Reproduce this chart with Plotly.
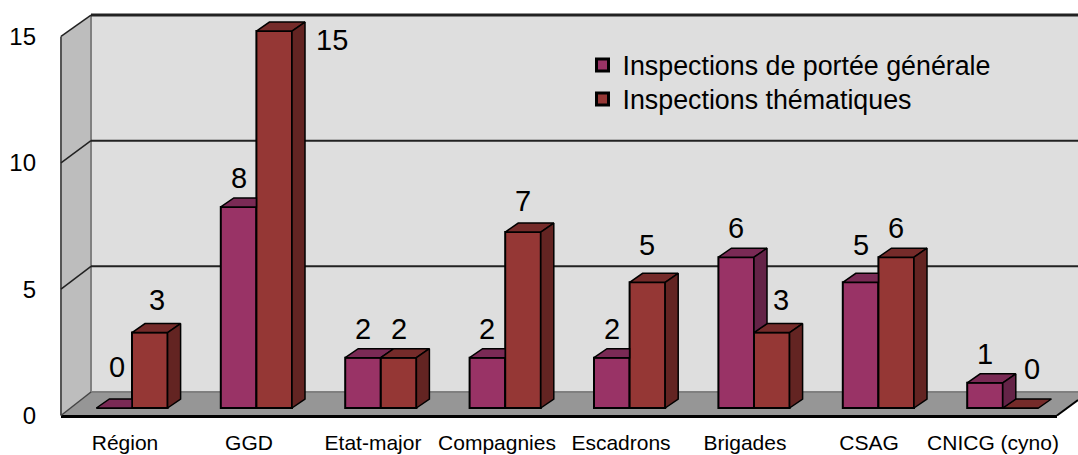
import plotly.graph_objects as go

categories = ["Région", "GGD", "Etat-major", "Compagnies", "Escadrons", "Brigades", "CSAG", "CNICG (cyno)"]
generale = [0, 8, 2, 2, 2, 6, 5, 1]
thematiques = [3, 15, 2, 7, 5, 3, 6, 0]
tick_values = [0, 5, 10, 15]
series_names = ["Inspections de portée générale", "Inspections thématiques"]

W, H = 1078, 455
L, B = 40, 428            # plot area in pixels
FONT = "Liberation Sans"
MAG, MAG_TOP, MAG_SIDE = "#993366", "#7a2a55", "#642347"
RED, RED_TOP, RED_SIDE = "#953735", "#752b2a", "#632422"
WALL, SIDE, FLOOR = "#dedede", "#bdbdbd", "#969696"

# scales (pixels per unit)
UX, X0 = 124.4, 132.0     # bar plane: pixel of category centre 0
UY, Y0 = 25.13, 408.0     # bar plane: pixel of value 0
FY0, FUY = 415.5, 25.27   # front plane of the value axis
LX0, LUX = 125.0, 124.0   # category labels
BW = 35.6 / UX
DX, DY = 13 / UX, 9 / UY  # bar depth

def fx(p): return (p - L) / (W - L)
def fy(p): return 1 - p / B

def poly(pts):
    return "M" + " L".join(f"{fx(a):.5f},{fy(b):.5f}" for a, b in pts) + " Z"

shapes = []
def wall(pts, fill):
    shapes.append(dict(type="path", xref="paper", yref="paper", layer="below",
                       path=poly(pts), fillcolor=fill, line=dict(width=0)))
def seg(a, b, color, width):
    shapes.append(dict(type="line", xref="paper", yref="paper", layer="below",
                       x0=fx(a[0]), y0=fy(a[1]), x1=fx(b[0]), y1=fy(b[1]),
                       line=dict(color=color, width=width)))

FX, BX = 61, 91                # front / back x of the wall
WD = 23.5                      # wall depth upward, px
wall_top = FY0 - FUY * 15
back_top = wall_top - WD + 2.5
back_bot = FY0 - WD
wall([(BX, back_top), (W, back_top), (W, back_bot), (BX, back_bot)], WALL)
wall([(FX, wall_top), (BX, back_top), (BX, back_bot), (FX, FY0)], SIDE)
wall([(FX, FY0), (BX, back_bot), (W, back_bot), (W, 400), (1057, FY0)], FLOOR)
seg((BX, back_bot), (W, back_bot), "#7f7f7f", 2)
seg((BX, back_top), (BX, back_bot), "#808080", 2)
seg((FX, wall_top), (FX, FY0), "#555555", 2)
seg((FX, FY0 + 1), (1057, FY0 + 1), "#000000", 3)
seg((1057, FY0), (W, 400), "#000000", 2)
seg((FX, FY0), (BX, back_bot), "#444444", 1.5)
for v in tick_values[1:]:
    fpy = FY0 - FUY * v
    bpy = Y0 - UY * v - 16
    seg((BX, bpy), (W, bpy), "#222222", 2 if v < 15 else 3)
    seg((FX, fpy), (BX, bpy), "#222222", 1.5)

fig = go.Figure()

def face(xs, ys, fill):
    fig.add_trace(go.Scatter(x=xs + xs[:1], y=ys + ys[:1], mode="lines", fill="toself",
                             fillcolor=fill, line=dict(color="#000000", width=1.5),
                             hoverinfo="skip", showlegend=False))

fig.add_trace(go.Bar(x=list(range(8)), y=generale, name=series_names[0], marker=dict(color=MAG, line=dict(color="#000000", width=2)), showlegend=False))
fig.add_trace(go.Bar(x=list(range(8)), y=thematiques, name=series_names[1], marker=dict(color=RED, line=dict(color="#000000", width=2)), showlegend=False))

for i, (m, r) in enumerate(zip(generale, thematiques)):
    a, c, e = i - BW, i, i + BW
    # magenta top, clipped by the taller red bar in front of it
    if m < r:
        face([a, c, c, a + DX], [m, m, m + DY, m + DY], MAG_TOP)
    else:
        face([a, c, c + DX, a + DX], [m, m, m + DY, m + DY], MAG_TOP)
    # red top and side
    face([c, e, e + DX, c + DX], [r, r, r + DY, r + DY], RED_TOP)
    if r > 0:
        face([e, e + DX, e + DX, e], [r, r + DY, DY, 0], RED_SIDE)
    # magenta side, only where it rises above the red bar
    if m > r:
        face([c, c + DX, c + DX, c], [m, m + DY, r + DY, r], MAG_SIDE)

# legend entries, one legend per row to hold the reference's row spacing
for name, col, lg in zip(series_names, [MAG, RED], ["legend", "legend2"]):
    fig.add_trace(go.Scatter(x=[None], y=[None], mode="markers", name=name, legend=lg,
                             marker=dict(symbol="square", size=12, color=col, line=dict(color="#000000", width=3))))

# category and value axes live on the overlaying subplot
fig.add_trace(go.Scatter(x=categories, y=[0] * 8, xaxis="x2", yaxis="y2", mode="markers",
                         marker=dict(opacity=0), hoverinfo="skip", showlegend=False))

annotations = []
def label(x, v, text, dx=0, dy=31):
    annotations.append(dict(x=x, y=v, xref="x", yref="y", text=str(text), showarrow=False,
                            xshift=dx, yshift=dy, font=dict(family=FONT, size=29, color="#000000"),
                            xanchor="center", yanchor="middle"))
for i, (m, r) in enumerate(zip(generale, thematiques)):
    label(i - BW / 2, m, m, 3 if m == 0 else 0, 41 if m == 0 else (37 if m == 5 else 29))
    if r == 15:
        label(i + BW / 2, r, r, 58, -9)
    elif r == 0:
        label(i + BW / 2, r, r, 11, 39)
    elif i == 0:
        label(i + BW / 2, r, r, 7, 33)
    elif m > r:
        label(i + BW / 2, r, r, 9, 33)
    else:
        label(i + BW / 2, r, r, 0, 29 if r in (2, 6) else (37 if r == 5 else 31))

leg = dict(xanchor="left", yanchor="top", bgcolor="rgba(0,0,0,0)", font=dict(family=FONT, size=26.8))
fig.update_layout(
    width=W, height=H, margin=dict(l=L, r=0, t=0, b=H - B), autosize=False,
    paper_bgcolor="#ffffff", plot_bgcolor="rgba(0,0,0,0)", shapes=shapes, annotations=annotations,
    barmode="group", bargap=1 - 2 * BW, bargroupgap=0,
    font=dict(family=FONT, color="#000000"),
    legend=dict(x=fx(582.5), y=fy(41), **leg),
    legend2=dict(x=fx(582.5), y=fy(75), **leg),
    xaxis=dict(range=[(L - X0) / UX, (W - X0) / UX], visible=False, fixedrange=True),
    yaxis=dict(range=[(Y0 - B) / UY, Y0 / UY], visible=False, fixedrange=True),
    xaxis2=dict(overlaying="x", anchor="y2", type="category", categoryorder="array", categoryarray=categories,
                range=[(L - LX0) / LUX, (W - LX0) / LUX], showgrid=False, zeroline=False, showline=False,
                ticks="", tickangle=0, tickfont=dict(family=FONT, size=21), fixedrange=True),
    yaxis2=dict(overlaying="y", anchor="x2", side="left", range=[(FY0 - B) / FUY, FY0 / FUY],
                tickmode="array", tickvals=tick_values, ticktext=[str(v) for v in tick_values],
                showgrid=False, zeroline=False, showline=False, ticks="", ticklabelstandoff=3,
                tickfont=dict(family=FONT, size=24), fixedrange=True),
)
fig.write_html("out.html", config=dict(displayModeBar=False),
               post_script="document.body.style.margin='0';document.documentElement.style.overflow='hidden';")
